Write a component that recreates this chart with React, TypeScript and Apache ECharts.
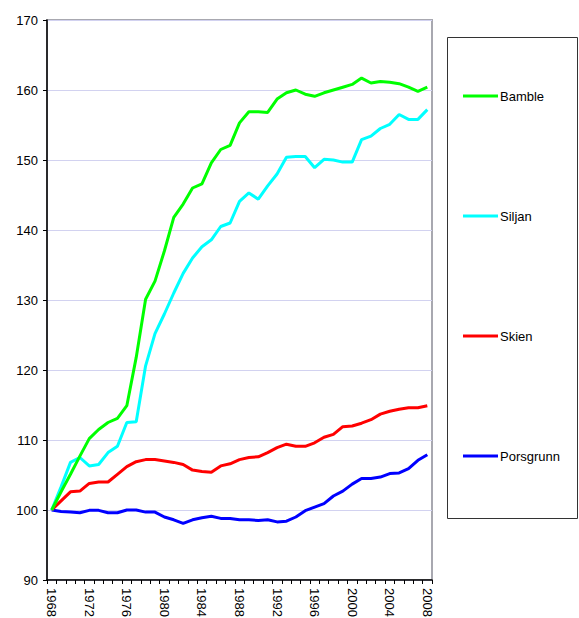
import React, { useEffect, useRef } from "react";
import * as echarts from "echarts";

const years: string[] = [];
for (let y = 1968; y <= 2008; y++) years.push(String(y));

const bamble = [
  100, 102.6, 105.1, 107.7, 110.2, 111.5, 112.5, 113.1, 114.9, 121.8,
  130.1, 132.7, 137.0, 141.8, 143.7, 146.0, 146.6, 149.6, 151.5, 152.1,
  155.3, 156.9, 156.9, 156.8, 158.7, 159.6, 160.0, 159.4, 159.1, 159.6,
  160.0, 160.4, 160.8, 161.7, 161.0, 161.2, 161.1, 160.9, 160.4, 159.8, 160.4,
];
const siljan = [
  100, 103.3, 106.8, 107.5, 106.3, 106.5, 108.2, 109.1, 112.5, 112.6,
  120.6, 125.2, 128.0, 131.0, 133.8, 136.0, 137.6, 138.6, 140.5, 141.0,
  144.1, 145.3, 144.4, 146.3, 148.0, 150.4, 150.5, 150.5, 148.9, 150.1,
  150.0, 149.7, 149.7, 152.9, 153.4, 154.5, 155.1, 156.5, 155.8, 155.8, 157.2,
];
const skien = [
  100, 101.3, 102.6, 102.7, 103.8, 104.0, 104.0, 105.1, 106.2, 106.9,
  107.2, 107.2, 107.0, 106.8, 106.5, 105.7, 105.5, 105.4, 106.3, 106.6,
  107.2, 107.5, 107.6, 108.2, 108.9, 109.4, 109.1, 109.1, 109.6, 110.4,
  110.8, 111.9, 112.0, 112.4, 112.9, 113.7, 114.1, 114.4, 114.6, 114.6, 114.9,
];
const porsgrunn = [
  100, 99.8, 99.7, 99.6, 99.95, 99.95, 99.6, 99.6, 100.0, 100.0,
  99.7, 99.7, 99.0, 98.6, 98.1, 98.6, 98.9, 99.1, 98.8, 98.8,
  98.6, 98.6, 98.5, 98.6, 98.3, 98.4, 99.0, 99.9, 100.4, 100.9,
  102.0, 102.7, 103.7, 104.5, 104.5, 104.7, 105.2, 105.3, 105.9, 107.1, 107.9,
];

const seriesNames = ["Bamble", "Siljan", "Skien", "Porsgrunn"];
const seriesData = [bamble, siljan, skien, porsgrunn];
const seriesColors = ["#00ff00", "#00ffff", "#ff0000", "#0000ff"];

const FONT = "'Liberation Sans', Arial, sans-serif";

export default function App() {
  const ref = useRef<HTMLDivElement>(null);
  useEffect(() => {
    if (!ref.current) return;
    const chart = echarts.init(ref.current, undefined, { renderer: "svg" });
    chart.setOption({
      animation: false,
      backgroundColor: "#ffffff",
      textStyle: { fontFamily: FONT },
      grid: {
        left: 47,
        top: 20,
        right: 147,
        bottom: 38,
        outerBoundsMode: "none",
        containLabel: false,
        show: true,
        borderColor: "#a8a8b0",
        borderWidth: 2,
      },
      legend: {
        orient: "vertical",
        left: 463,
        top: 89,
        padding: 0,
        itemGap: 106,
        itemWidth: 35,
        itemHeight: 3,
        icon: "rect",
        data: seriesNames,
        textStyle: {
          fontFamily: FONT,
          fontSize: 13,
          lineHeight: 14,
          color: "#000",
          padding: [0, 0, 0, -3],
        },
      },
      graphic: [
        {
          type: "rect",
          shape: { x: 447.5, y: 37.5, width: 130, height: 481 },
          style: { fill: "none", stroke: "#333", lineWidth: 1 },
          z: -1,
        },
      ],
      xAxis: {
        type: "category",
        data: years,
        boundaryGap: true,
        axisLine: { lineStyle: { color: "#000", width: 1.5 } },
        axisTick: { show: true, interval: 0, length: 4, lineStyle: { color: "#000" } },
        axisLabel: {
          interval: 3,
          rotate: -90,
          margin: 8,
          fontSize: 13,
          color: "#000",
          fontFamily: FONT,
        },
        splitLine: { show: false },
      },
      yAxis: {
        type: "value",
        min: 90,
        max: 170,
        interval: 10,
        axisLine: { show: true, lineStyle: { color: "#000", width: 1.5 } },
        axisTick: { show: true, length: 4, lineStyle: { color: "#000" } },
        axisLabel: { fontSize: 13, color: "#000", margin: 9, fontFamily: FONT },
        splitLine: { show: true, lineStyle: { color: "#d2d2f0", width: 1 } },
      },
      series: seriesNames.map((name, i) => ({
        name,
        type: "line",
        data: seriesData[i],
        symbol: "none",
        lineStyle: { color: seriesColors[i], width: 3 },
        itemStyle: { color: seriesColors[i] },
        z: 10 - i,
      })),
    });
    return () => chart.dispose();
  }, []);
  return (
    <div
      ref={ref}
      style={{ position: "fixed", left: 0, top: 0, width: 579, height: 618 }}
    />
  );
}
